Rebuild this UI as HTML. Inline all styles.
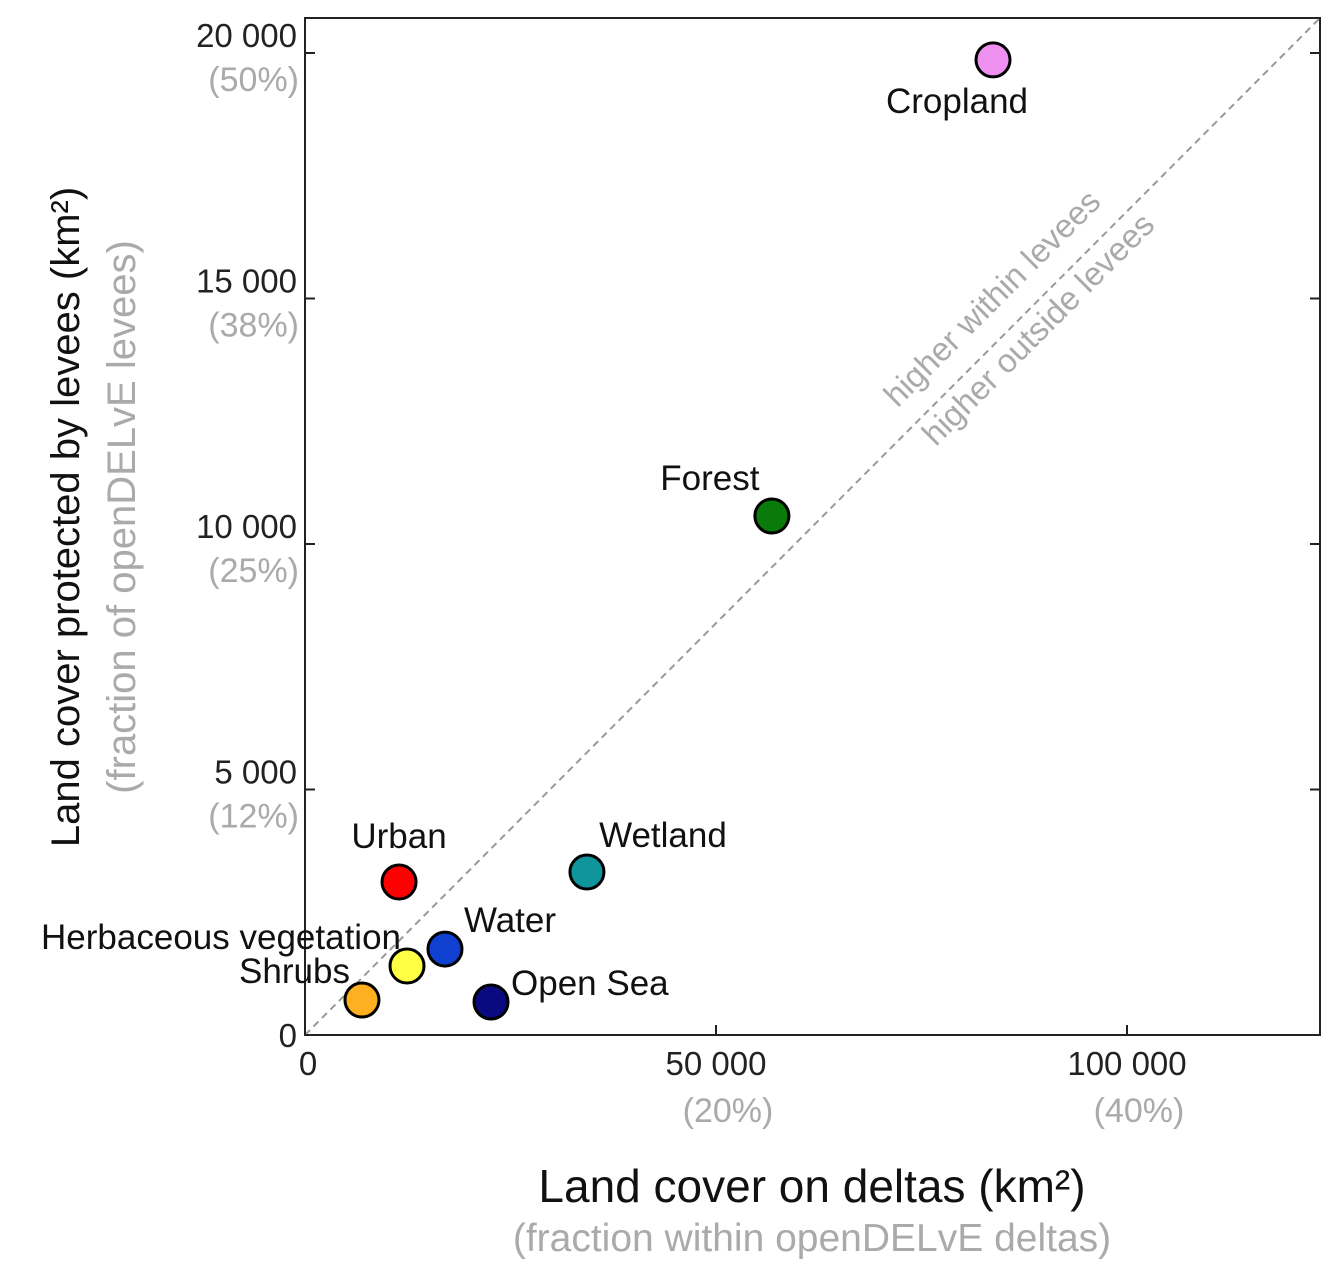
<!DOCTYPE html>
<html><head><meta charset="utf-8"><style>
html,body{margin:0;padding:0;background:#fff}
svg{display:block;font-family:"Liberation Sans",sans-serif}
</style></head><body>
<svg id="chart" width="1341" height="1278" viewBox="0 0 1341 1278">
<g id="axes"></g>
<g id="marks"></g>
</svg>
<script>
const categories=["Cropland","Forest","Wetland","Urban","Water","Herbaceous vegetation","Shrubs","Open Sea"];
const xValues=[83700,56800,34300,11440,17030,12410,6930,22630];
const yValues=[19860,10570,3320,3116,1750,1405,713,672];
const colors=["#ee90f0","#0a7a0a","#10959c","#ff0000","#1040d0","#ffff44","#ffb020","#0a0a80"];
const xTicks=[0,50000,100000];
const xTickLabels=["0","50 000","100 000"];
const xTickPct=["","(20%)","(40%)"];
const yTicks=[0,5000,10000,15000,20000];
const yTickLabels=["0","5 000","10 000","15 000","20 000"];
const yTickPct=["","(12%)","(25%)","(38%)","(50%)"];

const L=305,R=1320,T=18,B=1035;
const xMax=(R-L)/411*50000, yMax=(B-T)/245.5*5000;
const sx=v=>L+v/xMax*(R-L);
const sy=v=>B-v/yMax*(B-T);
const NS="http://www.w3.org/2000/svg";
const axes=document.getElementById('axes'), marks=document.getElementById('marks');
function mk(tag,attrs,parent,text){const e=document.createElementNS(NS,tag);for(const k in attrs)e.setAttribute(k,attrs[k]);if(text!==undefined)e.textContent=text;parent.appendChild(e);return e;}

let d=mk('line',{x1:sx(0),y1:sy(0),x2:R,y2:T,stroke:"#999","stroke-width":2,"stroke-dasharray":"7,5"},axes);


let t1=mk('text',{x:1000,y:306,"font-size":33,fill:"#aaa","text-anchor":"middle",transform:"rotate(-45 1000 306)"},axes,"higher within levees");


let t2=mk('text',{x:1046,y:337,"font-size":33,fill:"#aaa","text-anchor":"middle",transform:"rotate(-45 1046 337)"},axes,"higher outside levees");



let fr=mk('rect',{x:L,y:T,width:R-L,height:B-T,fill:"none",stroke:"#222","stroke-width":2},axes);



xTicks.forEach((v,i)=>{
  const x=sx(v);
  let tk=mk('line',{x1:x,y1:B,x2:x,y2:B-10,stroke:"#222","stroke-width":2},axes);
  
  
  let lb=mk('text',{x:x+(i?0:3),y:B+40,"font-size":33,fill:"#222","text-anchor":"middle"},axes,xTickLabels[i]);
  
  
  if(xTickPct[i]){let p=mk('text',{x:x+12,y:B+87,"font-size":34,fill:"#aaa","text-anchor":"middle"},axes,xTickPct[i]);
  
  }
});
yTicks.forEach((v,i)=>{
  const y=sy(v);
  let tk=mk('line',{x1:L,y1:y,x2:L+10,y2:y,stroke:"#222","stroke-width":2},axes);
  
  
  let tk2=mk('line',{x1:R-10,y1:y,x2:R,y2:y,stroke:"#222","stroke-width":2},axes);
  
  
  let lb=mk('text',{x:L-8,y:v===0?y+12:y-6,"font-size":33,fill:"#222","text-anchor":"end"},axes,yTickLabels[i]);
  
  
  if(yTickPct[i]){let p=mk('text',{x:L-6,y:y+38,"font-size":34,fill:"#aaa","text-anchor":"end"},axes,yTickPct[i]);
  
  }
});

let yt=mk('text',{x:79,y:517,"font-size":40,fill:"#111","text-anchor":"middle",transform:"rotate(-90 79 517)"},axes,"Land cover protected by levees (km²)");


let ys=mk('text',{x:135,y:517,"font-size":40,fill:"#aaa","text-anchor":"middle",transform:"rotate(-90 135 517)"},axes,"(fraction of openDELvE levees)");


let xt=mk('text',{x:812,y:1202,"font-size":46,fill:"#111","text-anchor":"middle"},axes,"Land cover on deltas (km²)");


let xs=mk('text',{x:812,y:1251,"font-size":39,fill:"#aaa","text-anchor":"middle"},axes,"(fraction within openDELvE deltas)");



const labelPos=[[-36,53,"middle"],[-62,-26,"middle"],[76,-25,"middle"],[0,-34,"middle"],[65,-17,"middle"],[-6,-17,"end"],[-12,-17,"end"],[20,-7,"start"]];
categories.forEach((c,i)=>{
  const cx=sx(xValues[i]),cy=sy(yValues[i]);
  let p=mk('circle',{cx:cx,cy:cy,r:17,fill:colors[i],stroke:"#000","stroke-width":3},marks);
  
  
  const lp=labelPos[i];
  let lb=mk('text',{x:cx+lp[0],y:cy+lp[1],"font-size":35,fill:"#111","text-anchor":lp[2]},marks,c);
  
  
});
</script>
</body></html>
